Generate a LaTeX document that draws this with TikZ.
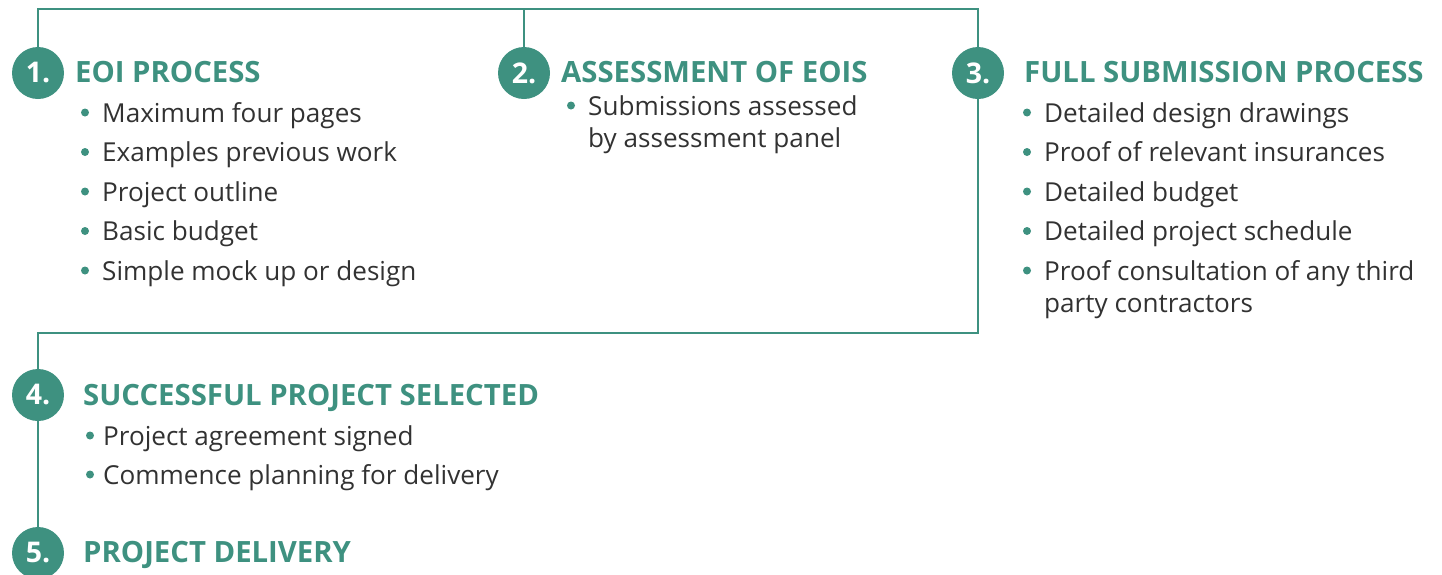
\documentclass[tikz,border=0pt]{standalone}
\usepackage{fontspec}
\setmainfont{Open Sans}
\definecolor{teal1}{RGB}{62,145,128}
\definecolor{bodyc}{RGB}{50,50,50}
\tikzset{
  conn/.style={draw=teal1, line width=2.8pt},
  numc/.style={circle, fill=teal1, minimum size=52pt, inner sep=0pt, text=white, font=\fontsize{28.5}{30}\selectfont\bfseries},
  head/.style={anchor=base west, inner sep=0pt, text=teal1, font=\fontsize{29.3}{32}\selectfont\bfseries},
  item/.style={anchor=base west, inner sep=0pt, text=bodyc, font=\fontsize{26.1}{32}\selectfont},
  dot/.style={circle, fill=teal1, minimum size=8pt, inner sep=0pt}
}
\begin{document}
\begin{tikzpicture}[x=1pt, y=-1pt]
\useasboundingbox (0,0) rectangle (1442,574);
% anchor points
\coordinate (p1) at (38,73);
\coordinate (p2) at (524,73);
\coordinate (p3) at (978,73);
\coordinate (p4) at (38,395);
\coordinate (p5) at (38,553);
\coordinate (tl) at (38,9);
\coordinate (t2) at (524,9);
\coordinate (tr) at (978,9);
\coordinate (br) at (978,333);
\coordinate (bl) at (38,333);
% connectors
\draw[conn] (p1) -- (tl) -- (tr) -- (p3);
\draw[conn] (p2) -- (t2);
\draw[conn] (p3) -- (br) -- (bl) -- (p4) -- (p5);
% circles
\node[numc] (c1) at (p1) {1.};
\node[numc] (c2) at (p2) {2.};
\node[numc] (c3) at (p3) {3.};
\node[numc] (c4) at (p4) {4.};
\node[numc] (c5) at (p5) {5.};
% step 1
\node[head] (h1) at (75,82) {EOI PROCESS};
\foreach \t/\y [count=\i] in {Maximum four pages/122, Examples previous work/161.5, Project outline/201, Basic budget/240.5, Simple mock up or design/280}{
  \node[dot] (d1\i) at (85,\y-9.5) {};
  \node[item] (i1\i) at (102,\y) {\t};
}
% step 2
\node[head] (h2) at (561,82) {ASSESSMENT OF EOIS};
\node[dot] (d21) at (571,105.5) {};
\node[item] (i21) at (588,115) {Submissions assessed};
\node[item] (i21b) at (588,147) {by assessment panel};
% step 3
\node[head] (h3) at (1024,82) {FULL SUBMISSION PROCESS};
\foreach \t/\y [count=\i] in {Detailed design drawings/122, Proof of relevant insurances/161.5, Detailed budget/201, Detailed project schedule/240.5, Proof consultation of any third/280}{
  \node[dot] (d3\i) at (1027,\y-9.5) {};
  \node[item] (i3\i) at (1044,\y) {\t};
}
\node[item] (i35b) at (1044,312) {party contractors};
% step 4
\node[head] (h4) at (83,405) {SUCCESSFUL PROJECT SELECTED};
\node[dot] (d41) at (90,435.5) {};
\node[item] (i41) at (103,445) {Project agreement signed};
\node[dot] (d42) at (90,474.5) {};
\node[item] (i42) at (103,484) {Commence planning for delivery};
% step 5
\node[head] (h5) at (83,562) {PROJECT DELIVERY};
\end{tikzpicture}
\end{document}
